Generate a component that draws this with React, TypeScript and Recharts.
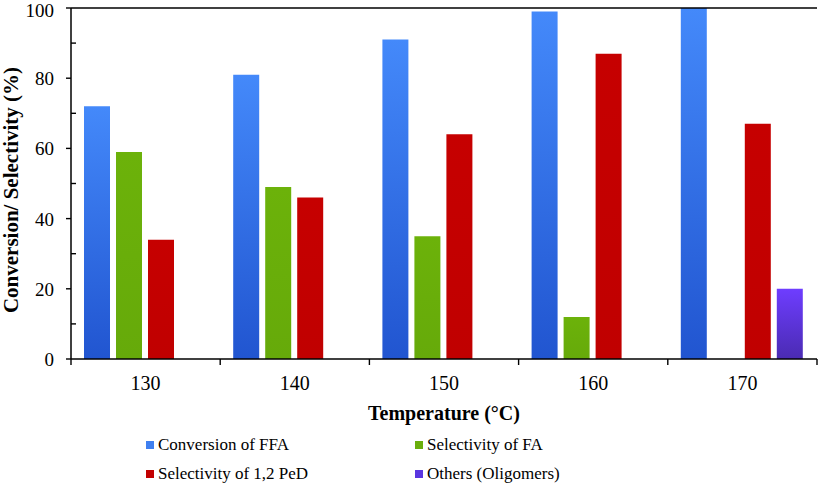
import React from "react"
import { Bar, BarChart, ReferenceLine, XAxis, YAxis } from "recharts"

// values
const temperatures = ["130", "140", "150", "160", "170"]
const conversionFFA = [72, 81, 91, 99, 100]
const selectivityFA = [59, 49, 35, 12, null]
const selectivityPeD = [34, 46, 64, 87, 67]
const othersOligomers = [null, null, null, null, 20]
const yTicks = [0, 10, 20, 30, 40, 50, 60, 70, 80, 90, 100]
const yLabelTicks = [0, 20, 40, 60, 80, 100]

const data = temperatures.map((t, i) => ({
  temp: t,
  ffa: conversionFFA[i],
  fa: selectivityFA[i],
  ped: selectivityPeD[i],
  oligo: othersOligomers[i],
}))

const series = [
  { key: "ffa", name: "Conversion of FFA", fill: "url(#gBlue)", swatch: "#3f7ff0" },
  { key: "fa", name: "Selectivity of FA", fill: "url(#gGreen)", swatch: "#6aae0c" },
  { key: "ped", name: "Selectivity of 1,2 PeD", fill: "url(#gRed)", swatch: "#c20000" },
  { key: "oligo", name: "Others (Oligomers)", fill: "url(#gPurple)", swatch: "#5a36e0" },
]

const W = 819
const H = 486
const LEFT = 71
const RIGHT = 2
const TOP = 8
const XAXIS_H = 127
const PLOT_W = W - LEFT - RIGHT
const BAND = PLOT_W / temperatures.length
const FONT = '"Liberation Serif", "Times New Roman", serif'

const Y_TICK = 5
const Y_MARGIN = 4
const YTick = (props: any) => {
  const { x, y, payload } = props
  const axisX = x + Y_TICK + Y_MARGIN
  const major = yLabelTicks.includes(payload.value)
  return (
    <g>
      {major ? (
        <>
          <line x1={axisX - 5} x2={axisX} y1={y} y2={y} stroke="#000" strokeWidth={1.4} />
          <text x={axisX - 17} y={Math.max(y + 7, 17)} textAnchor="end" fontSize={19} fontFamily={FONT} fill="#000">
            {payload.value}
          </text>
        </>
      ) : (
        <line x1={axisX} x2={axisX + 5} y1={y} y2={y} stroke="#000" strokeWidth={1.4} />
      )}
    </g>
  )
}

const X_TICK = 6
const X_MARGIN = 2
const XTick = (props: any) => {
  const { x, y, payload, index } = props
  const axisY = y - X_TICK - X_MARGIN
  const left = x - BAND / 2
  return (
    <g>
      <line x1={left} x2={left} y1={axisY} y2={axisY + 6} stroke="#000" strokeWidth={1.4} />
      {index === temperatures.length - 1 && (
        <line x1={x + BAND / 2} x2={x + BAND / 2} y1={axisY} y2={axisY + 6} stroke="#000" strokeWidth={1.4} />
      )}
      <text x={x} y={axisY + 31} textAnchor="middle" fontSize={20} fontFamily={FONT} fill="#000">
        {payload.value}
      </text>
    </g>
  )
}

export default function App() {
  return (
    <div style={{ position: "absolute", left: 0, top: 0, width: W, height: H, background: "#fff" }}>
      <BarChart
        width={W}
        height={H}
        data={data}
        margin={{ top: TOP, right: RIGHT, left: 0, bottom: 0 }}
        barCategoryGap={13}
        barGap={6}
      >
        <defs>
          <linearGradient id="gBlue" x1="0" y1="0" x2="0" y2="1">
            <stop offset="0%" stopColor="#4489fa" />
            <stop offset="100%" stopColor="#2155d0" />
          </linearGradient>
          <linearGradient id="gGreen" x1="0" y1="0" x2="0" y2="1">
            <stop offset="0%" stopColor="#6cb20a" />
            <stop offset="100%" stopColor="#66aa0a" />
          </linearGradient>
          <linearGradient id="gRed" x1="0" y1="0" x2="0" y2="1">
            <stop offset="0%" stopColor="#c60000" />
            <stop offset="100%" stopColor="#c00000" />
          </linearGradient>
          <linearGradient id="gPurple" x1="0" y1="0" x2="0" y2="1">
            <stop offset="0%" stopColor="#6e3dff" />
            <stop offset="100%" stopColor="#4a2bb2" />
          </linearGradient>
        </defs>
        <XAxis
          dataKey="temp"
          height={XAXIS_H}
          tickLine={false}
          tickSize={X_TICK}
          tickMargin={X_MARGIN}
          axisLine={{ stroke: "#000", strokeWidth: 1.5 }}
          tick={<XTick />}
          interval={0}
          label={{
            content: () => (
              <text x={LEFT + PLOT_W / 2} y={420} textAnchor="middle" fontSize={20} fontWeight="bold" fontFamily={FONT} fill="#000">
                Temperature (°C)
              </text>
            ),
          }}
        />
        <YAxis
          width={LEFT}
          domain={[0, 100]}
          ticks={yTicks}
          interval={0}
          tickLine={false}
          tickSize={Y_TICK}
          tickMargin={Y_MARGIN}
          axisLine={{ stroke: "#000", strokeWidth: 1.5 }}
          tick={<YTick />}
          label={{
            content: () => (
              <text
                x={0}
                y={0}
                transform="translate(18 190) rotate(-90)"
                textAnchor="middle"
                fontSize={21}
                fontWeight="bold"
                fontFamily={FONT}
                fill="#000"
              >
                Conversion/ Selectivity (%)
              </text>
            ),
          }}
        />
        <YAxis
          yAxisId="r"
          orientation="right"
          width={0}
          domain={[0, 100]}
          tick={false}
          tickLine={false}
          axisLine={{ stroke: "#000", strokeWidth: 1.5 }}
        />
        <ReferenceLine y={100} stroke="#000" strokeWidth={1.5} />
        {series.map((s) => (
          <Bar key={s.key} dataKey={s.key} name={s.name} fill={s.fill} isAnimationActive={false} />
        ))}
      </BarChart>
      {series.map((s, i) => (
        <div
          key={s.key}
          style={{
            position: "absolute",
            left: i % 2 === 0 ? 146 : 415,
            top: i < 2 ? 434 : 463,
            display: "flex",
            alignItems: "center",
            fontFamily: FONT,
            fontSize: 17,
            lineHeight: "22px",
            whiteSpace: "nowrap",
            color: "#000",
          }}
        >
          <span style={{ width: 8, height: 8, background: s.swatch, marginRight: 4, display: "inline-block" }} />
          {s.name}
        </div>
      ))}
    </div>
  )
}
